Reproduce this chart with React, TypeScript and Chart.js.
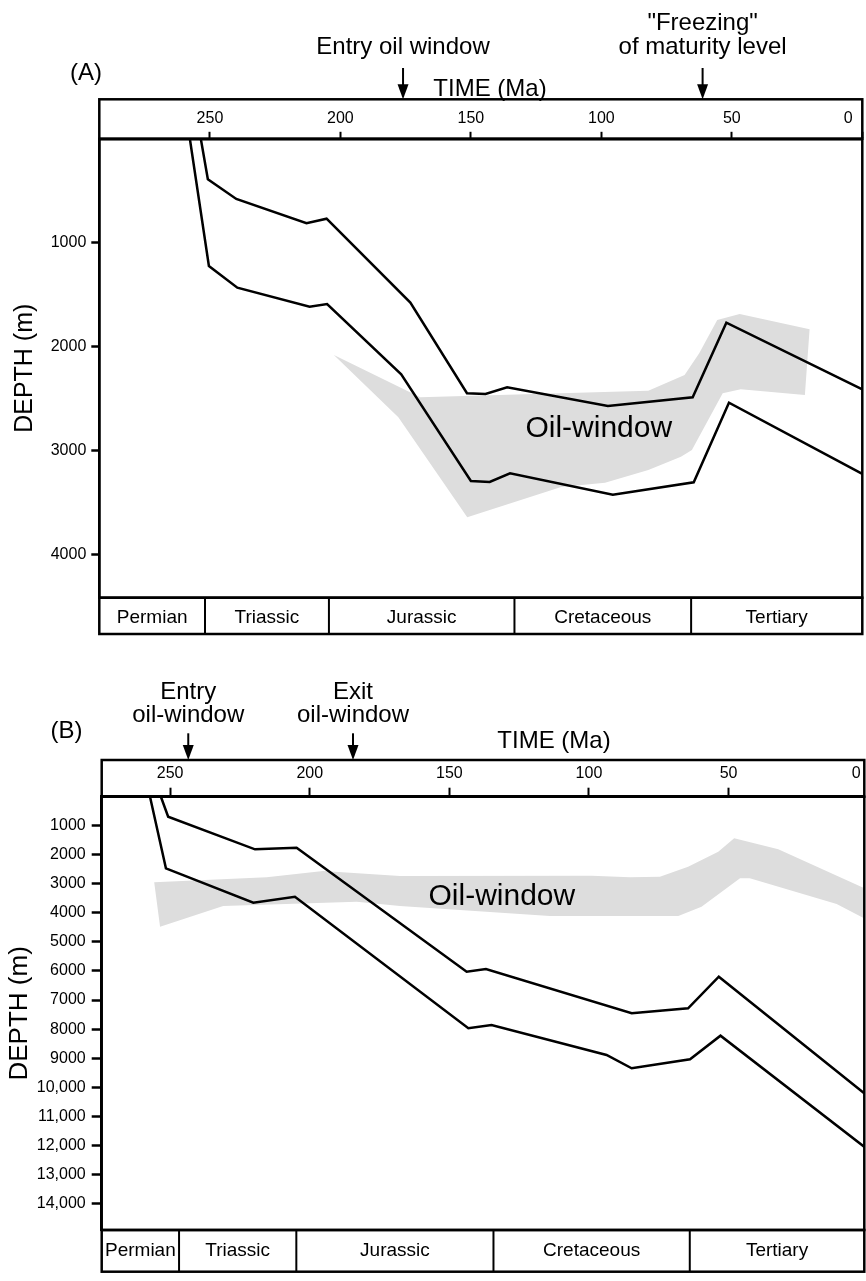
import { useEffect, useRef } from "react";
import { Chart, registerables } from "chart.js";

Chart.register(...registerables);

const FONT = '"Liberation Sans", Arial, Helvetica, sans-serif';

// Geological periods shown in the strip under each burial plot
const periodNames = ["Permian", "Triassic", "Jurassic", "Cretaceous", "Tertiary"];

// ---------- Panel A ----------
const ageTicksA = [250, 200, 150, 100, 50, 0];
const depthTicksA = [1000, 2000, 3000, 4000];
const depthLabelsA = ["1000", "2000", "3000", "4000"];
// burial curves as [age (Ma), depth (m)]
const upperHorizonA = [
  [253.5, 0], [250.8, 390], [239.9, 579], [213, 813], [205.3, 769], [173.2, 1577],
  [151.5, 2449], [144.4, 2456], [136.1, 2392], [97.5, 2572], [65, 2488], [52.1, 1770], [0, 2411],
];
const lowerHorizonA = [
  [257.7, 0], [250.4, 1224], [239.5, 1433], [211.8, 1616], [205.1, 1590], [176.7, 2267],
  [150, 3293], [142.8, 3303], [135, 3219], [95.6, 3425], [64.6, 3306], [51.1, 2540], [0, 3226],
];
const oilWindowA = [
  [202.5, 2081], [169.4, 2488], [82, 2424], [68.1, 2273], [62.5, 2064], [55.6, 1744],
  [47, 1686], [20.2, 1834], [22, 2466], [46.6, 2411], [53.5, 2449], [65.3, 2995],
  [69.5, 3060], [82, 3188], [98.6, 3310], [115.4, 3351], [151.4, 3643], [177.8, 2680],
];
const oilLabelA = [101, 2786];
const periodBoundsA = [251.9, 204.4, 133.3, 65.6];
const eventsA = [
  { age: 176, text: ["Entry oil window"] },
  { age: 61.2, text: ['"Freezing"', "of maturity level"] },
];

// ---------- Panel B ----------
const ageTicksB = [250, 200, 150, 100, 50, 0];
const depthTicksB = [1000, 2000, 3000, 4000, 5000, 6000, 7000, 8000, 9000, 10000, 11000, 12000, 13000, 14000];
const depthLabelsB = [
  "1000", "2000", "3000", "4000", "5000", "6000", "7000", "8000", "9000",
  "10,000", "11,000", "12,000", "13,000", "14,000",
];
const upperHorizonB = [
  [253.3, 0], [250.7, 688], [219.6, 1811], [204.7, 1756], [143.8, 6024], [136.9, 5931],
  [84.7, 7456], [64.5, 7284], [53.5, 6196], [0, 10318],
];
const lowerHorizonB = [
  [257.2, 0], [251.5, 2465], [220.2, 3649], [205.3, 3442], [143.2, 7972], [134.9, 7859],
  [93.7, 8892], [84.7, 9349], [63.8, 9040], [52.9, 8227], [0, 12156],
];
const oilWindowB = [
  [255.7, 2947], [215.4, 2775], [195.2, 2558], [167.7, 2730], [99.1, 2719], [85.3, 2775],
  [74.6, 2754], [64.5, 2410], [53.7, 1893], [48, 1432], [32.2, 1811], [0, 3214],
  [0, 4256], [11.3, 3694], [42.4, 2809], [45.9, 2809], [59.7, 3787], [68, 4107],
  [114, 4107], [167.7, 3763], [183.2, 3614], [231, 3763], [253.6, 4475],
];
const oilLabelB = [131.2, 3442];
const periodBoundsB = [246.8, 204.8, 134.2, 63.9];
const eventsB = [
  { age: 243.5, text: ["Entry", "oil-window"] },
  { age: 184.5, text: ["Exit", "oil-window"] },
];

type Pt = number[];
interface PanelCfg {
  top: number;
  height: number;
  padding: { top: number; right: number; bottom: number; left: number };
  yWidth: number;
  boxH: number;
  barH: number;
  barTextDy: number;
  ageMin: number;
  ageMax: number;
  depthMax: number;
  ageTicks: number[];
  depthTicks: number[];
  depthLabels: string[];
  upper: Pt[];
  lower: Pt[];
  oil: Pt[];
  oilLabel: Pt;
  periodBounds: number[];
  events: { age: number; text: string[] }[];
  xTickLen: number;
  yTickLen: number;
  yLabelPad: number;
  titlePad: number;
  titleSize: number;
  ageLabelDy: number;
  zeroInset: number;
  eventTextY: number;
  eventLineGap: number;
  arrowTop: number;
  letter: string;
  letterPos: number[];
  timeTitlePos: number[];
}

const panelA: PanelCfg = {
  top: 0,
  height: 650,
  padding: { top: 99.3, right: 3.7, bottom: 52.3, left: 0 },
  yWidth: 99.3,
  boxH: 39.5,
  barH: 36.3,
  barTextDy: 2,
  ageMin: 0,
  ageMax: 292.4,
  depthMax: 4417,
  ageTicks: ageTicksA,
  depthTicks: depthTicksA,
  depthLabels: depthLabelsA,
  upper: upperHorizonA,
  lower: lowerHorizonA,
  oil: oilWindowA,
  oilLabel: oilLabelA,
  periodBounds: periodBoundsA,
  events: eventsA,
  xTickLen: 7,
  yTickLen: 8,
  yLabelPad: 5,
  titlePad: 10.5,
  titleSize: 25,
  ageLabelDy: 20,
  zeroInset: 14,
  eventTextY: 47.5,
  eventLineGap: 24.5,
  arrowTop: 68,
  letter: "(A)",
  letterPos: [86, 73],
  timeTitlePos: [490, 89],
};

const panelB: PanelCfg = {
  top: 650,
  height: 631,
  padding: { top: 110, right: 1.7, bottom: 51, left: 0 },
  yWidth: 101.7,
  boxH: 36.7,
  barH: 41.7,
  barTextDy: 0,
  ageMin: 1.4,
  ageMax: 274.5,
  depthMax: 14916,
  ageTicks: ageTicksB,
  depthTicks: depthTicksB,
  depthLabels: depthLabelsB,
  upper: upperHorizonB,
  lower: lowerHorizonB,
  oil: oilWindowB,
  oilLabel: oilLabelB,
  periodBounds: periodBoundsB,
  events: eventsB,
  xTickLen: 9,
  yTickLen: 10,
  yLabelPad: 6,
  titlePad: 4,
  titleSize: 26,
  ageLabelDy: 22.7,
  zeroInset: 8,
  eventTextY: 65,
  eventLineGap: 22.5,
  arrowTop: 83.3,
  letter: "(B)",
  letterPos: [66.5, 81.7],
  timeTitlePos: [554, 91.7],
};

const toXY = (pts: Pt[]) => pts.map(([x, y]) => ({ x, y }));

// Frame, time-scale box, period strip and annotations
function drawFrame(chart: any, cfg: PanelCfg) {
  const { ctx, chartArea: ca } = chart;
  const xs = chart.scales.x;
  const ys = chart.scales.y;
  const L = ca.left, R = ca.right, T = ca.top, B = ca.bottom;
  ctx.save();
  ctx.strokeStyle = "#000";
  ctx.fillStyle = "#000";
  ctx.lineJoin = "miter";
  ctx.lineWidth = 2.5;
  ctx.strokeRect(L, T - cfg.boxH, R - L, cfg.boxH);
  ctx.strokeRect(L, T, R - L, B - T);
  ctx.strokeRect(L, B, R - L, cfg.barH);

  // period strip
  const edges = [L, ...cfg.periodBounds.map((a) => xs.getPixelForValue(a)), R];
  ctx.lineWidth = 2;
  for (let i = 1; i < edges.length - 1; i++) {
    ctx.beginPath();
    ctx.moveTo(edges[i], B);
    ctx.lineTo(edges[i], B + cfg.barH);
    ctx.stroke();
  }
  ctx.textAlign = "center";
  ctx.textBaseline = "middle";
  ctx.font = `19px ${FONT}`;
  periodNames.forEach((n, i) => {
    ctx.fillText(n, (edges[i] + edges[i + 1]) / 2, B + cfg.barH / 2 + cfg.barTextDy);
  });

  // age labels inside the time box
  ctx.font = `16px ${FONT}`;
  cfg.ageTicks.forEach((a) => {
    const px = Math.min(xs.getPixelForValue(a), R - cfg.zeroInset);
    ctx.fillText(String(a), px, T - cfg.ageLabelDy);
  });

  // events with arrows pointing at the time axis
  ctx.font = `24px ${FONT}`;
  const tip = T - cfg.boxH;
  cfg.events.forEach((ev) => {
    const px = xs.getPixelForValue(ev.age);
    const n = ev.text.length;
    ev.text.forEach((line, i) => {
      ctx.fillText(line, px, cfg.eventTextY - (n - 1 - i) * cfg.eventLineGap);
    });
    ctx.lineWidth = 2;
    ctx.beginPath();
    ctx.moveTo(px, cfg.arrowTop);
    ctx.lineTo(px, tip - 12);
    ctx.stroke();
    ctx.beginPath();
    ctx.moveTo(px, tip);
    ctx.lineTo(px - 5.5, tip - 15);
    ctx.lineTo(px + 5.5, tip - 15);
    ctx.closePath();
    ctx.fill();
  });

  ctx.fillText(cfg.letter, cfg.letterPos[0], cfg.letterPos[1]);
  ctx.fillText("TIME (Ma)", cfg.timeTitlePos[0], cfg.timeTitlePos[1]);

  ctx.font = `30px ${FONT}`;
  ctx.fillText("Oil-window", xs.getPixelForValue(cfg.oilLabel[0]), ys.getPixelForValue(cfg.oilLabel[1]));
  ctx.restore();
}

function buildConfig(cfg: PanelCfg): any {
  const curve = (data: Pt[]) => ({
    data: toXY(data),
    borderColor: "#000",
    borderWidth: 2.5,
    borderJoinStyle: "miter",
    pointRadius: 0,
    fill: false,
    tension: 0,
    order: 1,
  });
  return {
    type: "line",
    data: {
      datasets: [
        {
          label: "Oil-window",
          data: toXY(cfg.oil),
          fill: "shape",
          backgroundColor: "#dddddd",
          borderColor: "rgba(0,0,0,0)",
          borderWidth: 0,
          pointRadius: 0,
          tension: 0,
          order: 5,
        },
        { label: "upper", ...curve(cfg.upper) },
        { label: "lower", ...curve(cfg.lower) },
      ],
    },
    options: {
      responsive: false,
      animation: false,
      devicePixelRatio: 1,
      events: [],
      layout: { padding: cfg.padding },
      plugins: { legend: { display: false }, tooltip: { enabled: false } },
      scales: {
        x: {
          type: "linear",
          position: "top",
          reverse: true,
          min: cfg.ageMin,
          max: cfg.ageMax,
          afterBuildTicks: (s: any) => {
            s.ticks = cfg.ageTicks
              .filter((v) => v >= cfg.ageMin && v <= cfg.ageMax)
              .map((value) => ({ value }));
          },
          afterFit: (s: any) => {
            s.height = cfg.boxH;
          },
          ticks: { display: false },
          grid: {
            display: true,
            drawOnChartArea: false,
            drawTicks: true,
            tickLength: cfg.xTickLen,
            tickWidth: 2,
            tickColor: "#000",
            color: "#000",
          },
          border: { display: true, color: "#000", width: 2.5 },
        },
        y: {
          type: "linear",
          position: "left",
          reverse: true,
          min: 0,
          max: cfg.depthMax,
          afterBuildTicks: (s: any) => {
            s.ticks = cfg.depthTicks.map((value) => ({ value }));
          },
          afterFit: (s: any) => {
            s.width = cfg.yWidth;
          },
          ticks: {
            color: "#000",
            font: { family: FONT, size: 16 },
            padding: cfg.yLabelPad,
            callback: (_v: any, i: number) => cfg.depthLabels[i],
          },
          grid: {
            display: true,
            drawOnChartArea: false,
            drawTicks: true,
            tickLength: cfg.yTickLen,
            tickWidth: 2.5,
            tickColor: "#000",
            color: "#000",
          },
          border: { display: true, color: "#000", width: 2.5 },
          title: {
            display: true,
            text: "DEPTH (m)",
            color: "#000",
            font: { family: FONT, size: cfg.titleSize },
            padding: { top: cfg.titlePad, bottom: 0 },
          },
        },
      },
    },
    plugins: [{ id: "frame", afterDraw: (chart: any) => drawFrame(chart, cfg) }],
  };
}

function Panel({ cfg }: { cfg: PanelCfg }) {
  const ref = useRef<HTMLCanvasElement>(null);
  useEffect(() => {
    const chart = new Chart(ref.current as HTMLCanvasElement, buildConfig(cfg));
    return () => chart.destroy();
  }, [cfg]);
  return (
    <canvas
      ref={ref}
      width={866}
      height={cfg.height}
      style={{ position: "absolute", left: 0, top: cfg.top, width: 866, height: cfg.height }}
    />
  );
}

export default function App() {
  return (
    <div style={{ position: "absolute", left: 0, top: 0, width: 866, height: 1281, background: "#fff" }}>
      <Panel cfg={panelA} />
      <Panel cfg={panelB} />
    </div>
  );
}
